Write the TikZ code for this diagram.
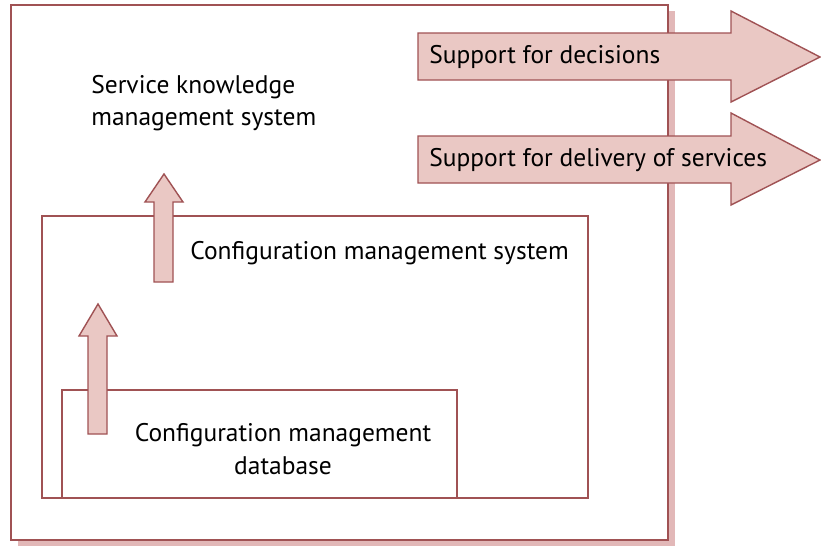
\documentclass[tikz,border=0pt]{standalone}
\usepackage{fontspec}
\setmainfont{PT Sans}
\definecolor{boxline}{RGB}{160,82,84}
\definecolor{arrowfill}{RGB}{234,200,196}
\definecolor{boxshadow}{RGB}{226,184,184}

\begin{document}
\begin{tikzpicture}[x=0.02cm, y=-0.02cm,
    frame/.style={draw=boxline, line width=0.8pt},
    blockarrow/.style={draw=boxline, fill=arrowfill, line width=0.8pt, line join=miter},
    label/.style={font=\fontsize{14.5}{18.5}\selectfont, inner sep=0pt}]
    \useasboundingbox (0,0) rectangle (821,549);

    % outer box with its shadow
    \fill[boxshadow] (18,11) rectangle (675,546);
    \draw[frame, line width=1.1pt, fill=white] (11,5) rectangle (668,540);

    % inner boxes
    \draw[frame] (42,216) rectangle (588,498);
    \draw[frame] (62,390) rectangle (457,498);

    % small up arrows
    \draw[blockarrow] (154,282) -- (154,202) -- (145,202) -- (164,174)
        -- (183,202) -- (173,202) -- (173,282) -- cycle;
    \draw[blockarrow] (88,434) -- (88,336) -- (79,336) -- (98,304)
        -- (117,336) -- (107,336) -- (107,434) -- cycle;

    % big arrows out of the box
    \draw[blockarrow] (418,33) -- (731,33) -- (731,11) -- (820,57)
        -- (731,102) -- (731,80) -- (418,80) -- cycle;
    \draw[blockarrow] (418,136) -- (731,136) -- (731,113) -- (820,160)
        -- (731,205) -- (731,183) -- (418,183) -- cycle;

    % labels
    \node[label, anchor=west, align=left] (skms) at (91,103)
        {Service knowledge\\management system};
    \node[label, anchor=west] (cms) at (190,253) {Configuration management system};
    \node[label, align=center] (cmdb) at (283,449)
        {Configuration management\\database};
    \node[label, anchor=west] (decisions) at (429,57) {Support for decisions};
    \node[label, anchor=west] (delivery) at (429,160) {Support for delivery of services};
\end{tikzpicture}
\end{document}
